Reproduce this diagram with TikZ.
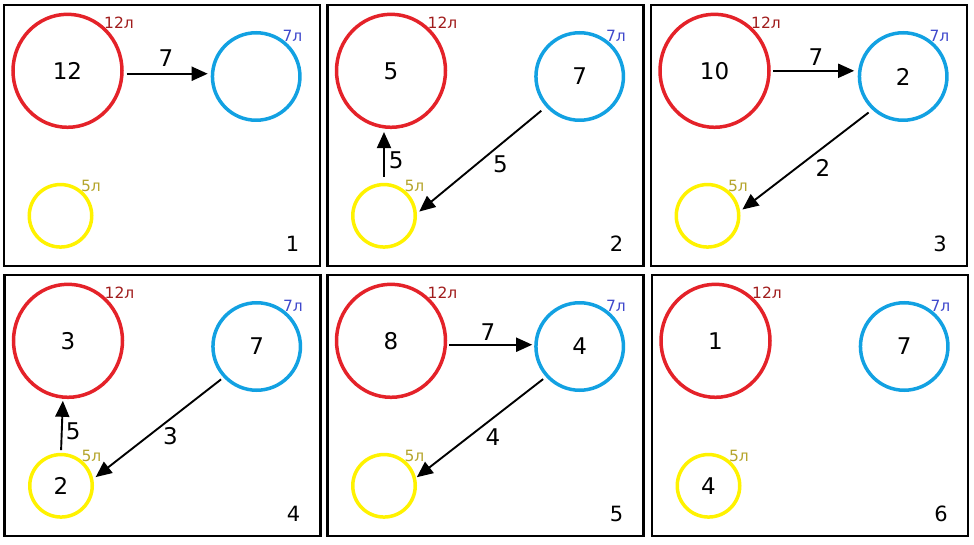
\documentclass[tikz,border=0pt]{standalone}
\usepackage{fontspec}
\setmainfont{DejaVu Sans}
\usetikzlibrary{shapes.geometric,arrows.meta}
\definecolor{jugred}{HTML}{E42229}
\definecolor{jugblue}{HTML}{12A1E2}
\definecolor{jugyellow}{HTML}{FFF200}
\definecolor{capred}{HTML}{A01C1C}
\definecolor{capblue}{HTML}{3F48CC}
\definecolor{capyellow}{HTML}{B5A52C}
\newcommand\bignum{\fontsize{23}{27}\selectfont}
\newcommand\smallnum{\fontsize{15.5}{18}\selectfont}
\newcommand\panelnum{\fontsize{21}{24}\selectfont}
\tikzset{
  frame/.style={draw=black, line width=2.2pt},
  redjug/.style={ellipse, draw=jugred, line width=3.5pt, minimum width=109pt, minimum height=113pt, inner sep=0pt, font=\bignum},
  bluejug/.style={circle, draw=jugblue, line width=3.5pt, minimum size=87.5pt, inner sep=0pt, font=\bignum},
  yeljug/.style={circle, draw=jugyellow, line width=3.5pt, minimum size=62.5pt, inner sep=0pt, font=\bignum},
  caplab/.style={font=\smallnum, inner sep=0pt},
  flow/.style={-{Triangle[length=16pt,width=14pt]}, line width=1.9pt, draw=black},
  flowlab/.style={font=\bignum, inner sep=0pt},
  panelno/.style={font=\panelnum, inner sep=0pt},
}
\begin{document}
\begin{tikzpicture}[x=1pt,y=-1pt]
\useasboundingbox (0,0) rectangle (974,545);
% ---------- Panel 1
\begin{scope}[shift={(4,5)}]
  \draw[frame] (0,0) rectangle (316,261);
  \node[redjug] (r1) at (63.5,65.8) {12};
  \node[bluejug] (b1) at (252.2,71.5) {};
  \node[yeljug] (y1) at (56.5,210.8) {};
  \node[caplab, text=capred] (c1r) at (115,17.5) {12л};
  \node[caplab, text=capblue] (c1b) at (288.5,31.3) {7л};
  \node[caplab, text=capyellow] (c1y) at (87,181) {5л};
  \draw[flow, shorten <=3pt, shorten >=3pt] (r1.357) -- (r1.357 -| b1.west);
  \node[flowlab] (l1a) at (162,53) {7};
  \node[panelno] (n1) at (288.5,239) {1};
\end{scope}
% ---------- Panel 2
\begin{scope}[shift={(327.5,5)}]
  \draw[frame] (0,0) rectangle (316,261);
  \node[redjug] (r2) at (63.5,65.8) {5};
  \node[bluejug] (b2) at (252.2,71.5) {7};
  \node[yeljug] (y2) at (56.5,210.8) {};
  \node[caplab, text=capred] (c2r) at (115,17.5) {12л};
  \node[caplab, text=capblue] (c2b) at (288.5,31.3) {7л};
  \node[caplab, text=capyellow] (c2y) at (87,181) {5л};
  \draw[flow, shorten <=6pt, shorten >=3pt] (y2.north) -- (y2.north |- r2.south);
  \draw[flow, shorten <=6pt, shorten >=3pt] (b2.222) -- (y2.4);
  \node[flowlab] (l2a) at (68.7,155) {5};
  \node[flowlab] (l2b) at (173,159.5) {5};
  \node[panelno] (n2) at (289,239) {2};
\end{scope}
% ---------- Panel 3
\begin{scope}[shift={(651,5)}]
  \draw[frame] (0,0) rectangle (316,261);
  \node[redjug] (r3) at (63.5,65.8) {10};
  \node[bluejug] (b3) at (252.2,71.5) {2};
  \node[yeljug] (y3) at (56.5,210.8) {};
  \node[caplab, text=capred] (c3r) at (115,17.5) {12л};
  \node[caplab, text=capblue] (c3b) at (288.5,31.3) {7л};
  \node[caplab, text=capyellow] (c3y) at (87,181) {5л};
  \draw[flow, shorten <=2pt, shorten >=3.5pt] (r3.east) -- (r3.east -| b3.west);
  \draw[flow, shorten <=4.5pt, shorten >=2.8pt] (b3.227) -- (y3.8);
  \node[flowlab] (l3a) at (165,52) {7};
  \node[flowlab] (l3b) at (172,163) {2};
  \node[panelno] (n3) at (289,239) {3};
\end{scope}
% ---------- Panel 4
\begin{scope}[shift={(4.5,275)}]
  \draw[frame] (0,0) rectangle (316,261);
  \node[redjug] (r4) at (63.5,65.8) {3};
  \node[bluejug] (b4) at (252.2,71.5) {7};
  \node[yeljug] (y4) at (56.5,210.8) {2};
  \node[caplab, text=capred] (c4r) at (115,17.5) {12л};
  \node[caplab, text=capblue] (c4b) at (288.5,31.3) {7л};
  \node[caplab, text=capyellow] (c4y) at (87,181) {5л};
  \draw[flow, shorten <=2.7pt, shorten >=2pt] (y4.north) -- (r4.265);
  \draw[flow, shorten <=3pt, shorten >=3pt] (b4.223.5) -- (y4.12.6);
  \node[flowlab] (l4a) at (68.8,156) {5};
  \node[flowlab] (l4b) at (166,161) {3};
  \node[panelno] (n4) at (289,239) {4};
\end{scope}
% ---------- Panel 5
\begin{scope}[shift={(327.5,275)}]
  \draw[frame] (0,0) rectangle (316,261);
  \node[redjug] (r5) at (63.5,65.8) {8};
  \node[bluejug] (b5) at (252.2,71.5) {4};
  \node[yeljug] (y5) at (56.5,210.8) {};
  \node[caplab, text=capred] (c5r) at (115,17.5) {12л};
  \node[caplab, text=capblue] (c5b) at (288.5,31.3) {7л};
  \node[caplab, text=capyellow] (c5y) at (87,181) {5л};
  \draw[flow, shorten <=2.2pt, shorten >=2pt] (r5.356) -- (r5.356 -| b5.west);
  \draw[flow, shorten <=3.5pt, shorten >=1pt] (b5.222) -- (y5.14.6);
  \node[flowlab] (l5a) at (160.5,56.7) {7};
  \node[flowlab] (l5b) at (165.5,161.7) {4};
  \node[panelno] (n5) at (289,239) {5};
\end{scope}
% ---------- Panel 6
\begin{scope}[shift={(652,275)}]
  \draw[frame] (0,0) rectangle (316,261);
  \node[redjug] (r6) at (63.5,65.8) {1};
  \node[bluejug] (b6) at (252.2,71.5) {7};
  \node[yeljug] (y6) at (56.5,210.8) {4};
  \node[caplab, text=capred] (c6r) at (115,17.5) {12л};
  \node[caplab, text=capblue] (c6b) at (288.5,31.3) {7л};
  \node[caplab, text=capyellow] (c6y) at (87,181) {5л};
  \node[panelno] (n6) at (289,239) {6};
\end{scope}
\end{tikzpicture}
\end{document}
